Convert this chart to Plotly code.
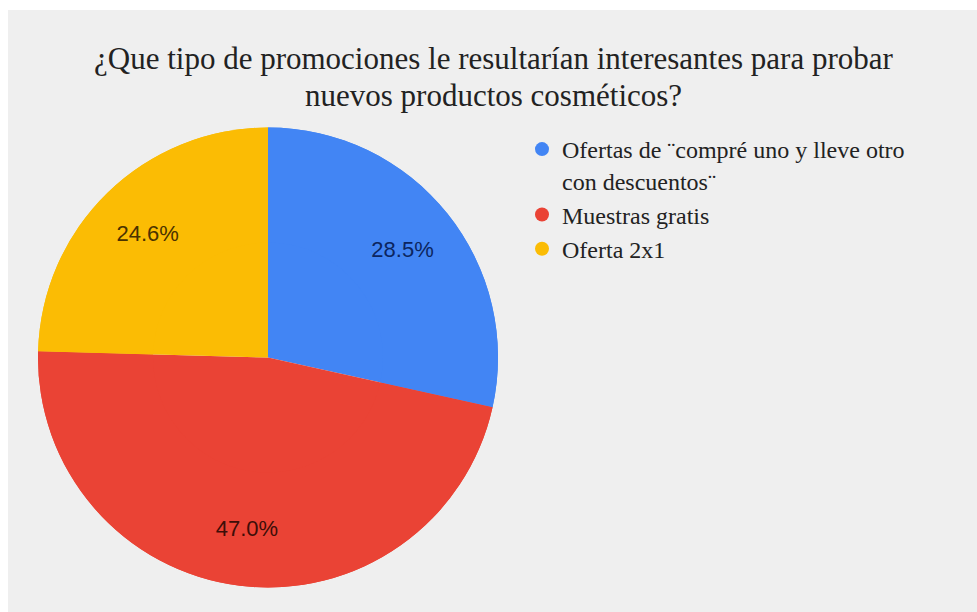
import plotly.graph_objects as go

# Survey answers: share of respondents per promotion type (%)
categories = [
    "Ofertas de ¨compré uno y lleve otro<br>con descuentos¨",
    "Muestras gratis",
    "Oferta 2x1",
]
shares = [28.5, 47.0, 24.6]
slice_colors = ["#4285f4", "#ea4335", "#fbbc04"]
label_colors = ["#0c2560", "#3d0e08", "#4a3200"]
title_lines = [
    "¿Que tipo de promociones le resultarían interesantes para probar",
    "nuevos productos cosméticos?",
]

W, H = 977, 612
pie_domain = dict(x=[38 / W, 498 / W], y=[1 - 588 / H, 1 - 127 / H])
serif = "Liberation Serif, Times New Roman, serif"

fig = go.Figure()

# Solid base disc (no labels)
fig.add_trace(go.Pie(
    labels=categories, values=shares,
    marker=dict(colors=slice_colors, line=dict(width=0)),
    sort=False, direction="clockwise", rotation=0,
    textinfo="none", hoverinfo="skip",
    showlegend=False, domain=pie_domain,
))

# Outer ring carries the percentage labels, placed at ~3/4 of the radius
fig.add_trace(go.Pie(
    labels=categories, values=shares,
    marker=dict(colors=slice_colors, line=dict(width=0)),
    sort=False, direction="clockwise", rotation=0,
    hole=0.5,
    texttemplate="%{value:.1f}%",
    textposition="inside",
    insidetextorientation="horizontal",
    textfont=dict(family="Liberation Sans, Arial", size=22, color=label_colors),
    hoverinfo="label+value",
    showlegend=False, domain=pie_domain,
))

# Legend entries with round markers
for name, col in zip(categories, slice_colors):
    fig.add_trace(go.Scatter(
        x=[None], y=[None], mode="markers", name=name,
        marker=dict(color=col, size=14, symbol="circle"),
        legendgroup=name, showlegend=True,
    ))

# Two-line title with tight line spacing
title_ann = []
for line, yc in zip(title_lines, [59, 95]):
    title_ann.append(dict(
        text=line, xref="paper", yref="paper",
        x=494 / W, y=1 - yc / H, xanchor="center", yanchor="middle",
        showarrow=False,
        font=dict(family=serif, size=31, color="#222222"),
    ))

fig.update_layout(
    width=W, height=H,
    margin=dict(l=0, r=0, t=0, b=0),
    paper_bgcolor="white",
    plot_bgcolor="rgba(0,0,0,0)",
    xaxis=dict(visible=False),
    yaxis=dict(visible=False),
    annotations=title_ann,
    legend=dict(
        x=522 / W, xanchor="left",
        y=1 - 127 / H, yanchor="top",
        bgcolor="rgba(0,0,0,0)",
        font=dict(family=serif, size=24, color="#222222"),
        valign="top",
        tracegroupgap=0,
        itemclick=False,
    ),
    shapes=[dict(
        type="rect", xref="paper", yref="paper",
        x0=8 / W, x1=1, y0=0, y1=1 - 10 / H,
        fillcolor="#efefef", line=dict(width=0), layer="below",
    )],
)

fig.write_html("out.html")
